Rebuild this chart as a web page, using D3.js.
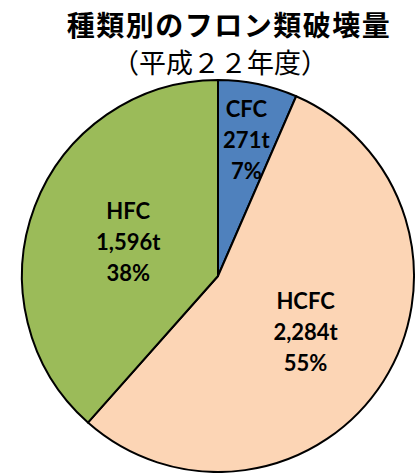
<!DOCTYPE html>
<html>
<head>
<meta charset="utf-8">
<script src="https://cdn.jsdelivr.net/npm/d3@7"></script>
<style>
  html, body { margin: 0; padding: 0; background: #ffffff; }
  svg { display: block; }
</style>
</head>
<body>
<div id="chart"></div>
<script>
// Data
const categories = ['CFC', 'HCFC', 'HFC'];
const amounts = [271, 2284, 1596];
const amountLabels = ['271t', '2,284t', '1,596t'];
const percentLabels = ['7%', '55%', '38%'];
const colors = ['#4F81BD', '#FCD5B5', '#9BBB59'];

const WIDTH = 417;
const HEIGHT = 473;
const CX = 218;
const CY = 276;
const RADIUS = 196;

// label distance from centre, per slice (fraction of radius)
const labelRadius = { CFC: 0.71, HCFC: 0.53, HFC: 0.49 };

const svg = d3.select('#chart')
    .append('svg')
    .attr('width', WIDTH)
    .attr('height', HEIGHT);

// Title
svg.append('text')
    .attr('x', 229)
    .attr('y', 36)
    .attr('text-anchor', 'middle')
    .style('font-family', '"Noto Sans CJK JP", sans-serif')
    .style('font-weight', 'bold')
    .style('font-size', '28px')
    .style('letter-spacing', '1.5px')
    .text('種類別のフロン類破壊量');

svg.append('text')
    .attr('x', 220)
    .attr('y', 73)
    .attr('text-anchor', 'middle')
    .style('font-family', '"Noto Sans CJK JP", sans-serif')
    .style('font-size', '27px')
    .text('（平成２２年度）');

const rows = categories.map((name, i) => ({
    name,
    value: amounts[i],
    amount: amountLabels[i],
    pct: percentLabels[i],
    color: colors[i]
}));

const pie = d3.pie().sort(null).value(d => d.value);
const arc = d3.arc().innerRadius(0).outerRadius(RADIUS);

const g = svg.append('g')
    .attr('transform', `translate(${CX},${CY})`);

const slices = pie(rows);

g.selectAll('path.slice')
    .data(slices)
    .enter()
    .append('path')
    .attr('class', 'slice')
    .attr('d', arc)
    .style('fill', d => d.data.color)
    .style('stroke', '#000')
    .style('stroke-width', '2px')
    .style('stroke-linejoin', 'round');

// Labels
slices.forEach(d => {
    const r = RADIUS * labelRadius[d.data.name];
    const pos = d3.arc().innerRadius(r).outerRadius(r).centroid(d);
    const text = g.append('text')
        .attr('text-anchor', 'middle')
        .attr('transform', `translate(${pos[0]},${pos[1]})`)
        .style('font-family', 'Lato, "Open Sans", sans-serif')
        .style('font-weight', 'bold')
        .style('font-size', '22px')
        .style('fill', '#000');
    [d.data.name, d.data.amount, d.data.pct].forEach((line, k) => {
        text.append('tspan')
            .attr('x', 0)
            .attr('y', (k - 1) * 31 + 8)
            .text(line);
    });
});
</script>
</body>
</html>
